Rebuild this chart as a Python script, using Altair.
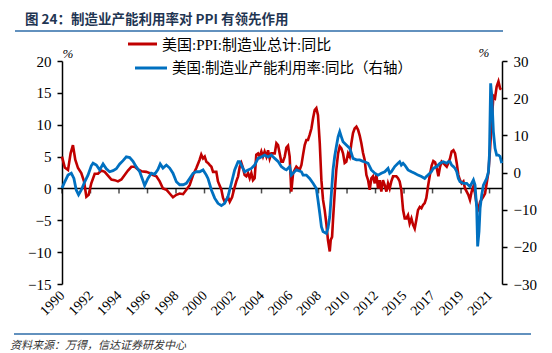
import altair as alt
import pandas as pd

# ---------------- data ----------------
red_t = [1990.00, 1990.20, 1990.44, 1990.63, 1990.80, 1990.97, 1991.17, 1991.41, 1991.61, 1991.78,
         1991.95, 1992.14, 1992.39, 1992.63, 1992.87, 1993.12, 1993.36, 1993.61, 1993.85, 1994.09,
         1994.34, 1994.58, 1994.82, 1995.07, 1995.31, 1995.55, 1995.80, 1996.16, 1996.41, 1996.65,
         1996.90, 1997.14, 1997.38, 1997.63, 1997.87, 1998.11, 1998.36, 1998.60, 1998.85, 1999.09,
         1999.33, 1999.58, 1999.82, 2000.06, 2000.18, 2000.31, 2000.43, 2000.55, 2000.67, 2000.79,
         2000.92, 2001.04, 2001.28, 2001.40, 2001.65, 2001.77, 2001.89, 2002.01, 2002.13, 2002.26,
         2002.43, 2002.57, 2002.74, 2002.87, 2002.99, 2003.11, 2003.23, 2003.35, 2003.47, 2003.60,
         2003.72, 2003.84, 2003.96, 2004.08, 2004.20, 2004.33, 2004.45, 2004.57, 2004.69, 2004.81,
         2004.94, 2005.06, 2005.18, 2005.30, 2005.55, 2005.67, 2005.79, 2005.91, 2006.03, 2006.15,
         2006.28, 2006.40, 2006.52, 2006.64, 2006.76, 2006.89, 2007.01, 2007.13, 2007.37, 2007.50,
         2007.62, 2007.74, 2007.86, 2007.98, 2008.10, 2008.23, 2008.35, 2008.47, 2008.59, 2008.71,
         2008.84, 2008.96, 2009.08, 2009.20, 2009.32, 2009.44, 2009.57, 2009.64, 2009.74, 2009.81,
         2009.93, 2010.05, 2010.18, 2010.30, 2010.42, 2010.54, 2010.66, 2010.78, 2010.91, 2011.03,
         2011.15, 2011.27, 2011.39, 2011.52, 2011.64, 2011.76, 2011.88, 2012.00, 2012.12, 2012.25,
         2012.37, 2012.49, 2012.61, 2012.73, 2012.86, 2012.98, 2013.10, 2013.22, 2013.34, 2013.46,
         2013.59, 2013.71, 2013.83, 2013.95, 2014.07, 2014.20, 2014.44, 2014.56, 2014.68, 2014.80,
         2014.93, 2015.05, 2015.17, 2015.29, 2015.41, 2015.54, 2015.66, 2015.78, 2015.90, 2016.02,
         2016.15, 2016.27, 2016.39, 2016.51, 2016.63, 2016.75, 2016.88, 2017.02, 2017.14, 2017.27,
         2017.39, 2017.51, 2017.63, 2017.75, 2017.99, 2018.12, 2018.24, 2018.36, 2018.48, 2018.61,
         2018.73, 2018.85, 2018.97, 2019.09, 2019.21, 2019.34, 2019.46, 2019.58, 2019.70, 2019.82,
         2019.94, 2020.07, 2020.19, 2020.31, 2020.43, 2020.56, 2020.80, 2020.92, 2021.04, 2021.17,
         2021.29, 2021.41, 2021.53, 2021.65, 2021.77, 2021.90, 2022.02, 2022.09]
red_v = [5.0, 3.3, 2.9, 5.5, 6.8, 4.5, 3.2, 2.4, 1.1, -1.3,
         -1.0, 0.8, 2.3, 2.3, 2.8, 2.6, 2.0, 1.4, 1.3, 1.1,
         1.4, 2.1, 2.8, 3.4, 3.4, 3.0, 2.7, 2.6, 2.4, 2.1,
         1.9, 1.1, 0.0, -0.2, -0.8, -1.4, -1.0, -0.8, -0.9, -0.2,
         0.5, 2.1, 3.2, 4.5, 5.3, 4.7, 5.0, 4.2, 4.0, 3.7,
         3.4, 2.6, 2.6, 1.1, -0.2, -1.5, -2.1, -1.8, -1.3, -2.1,
         -1.4, -0.2, 1.1, 1.9, 3.4, 4.0, 3.2, 2.1, 1.9, 2.4,
         1.6, 2.4, 1.3, 1.6, 5.3, 5.5, 5.0, 5.8, 5.0, 5.8,
         5.0, 6.0, 4.7, 5.5, 5.5, 7.1, 6.8, 5.5, 4.2, 4.2,
         5.0, 6.4, 6.7, 5.0, -0.5, 2.4, 2.9, 3.4, 2.9, 3.7,
         5.3, 6.8, 7.6, 7.6, 8.4, 9.4, 11.0, 12.3, 12.6, 11.5,
         7.1, 1.3, -1.8, -3.4, -5.5, -8.1, -9.9, -8.1, -7.6, -4.9,
         -0.8, 2.9, 5.5, 6.6, 6.3, 5.5, 4.0, 4.2, 5.5, 5.0,
         7.1, 8.7, 9.4, 9.7, 9.2, 8.3, 7.1, 5.6, 4.5, 2.1,
         1.3, -0.2, 1.6, 1.9, 0.8, 2.1, 0.0, 1.3, -0.5, 1.3,
         0.5, -0.5, 0.8, 0.0, 1.1, 1.9, 1.9, 1.6, 1.1, -0.2,
         -3.4, -4.7, -4.7, -4.2, -5.5, -4.7, -5.7, -6.3, -4.9, -3.4,
         -2.9, -3.1, -2.6, -2.3, -1.5, 0.3, 2.0, 3.6, 4.3, 4.1,
         3.2, 1.9, 3.4, 4.2, 3.7, 3.4, 4.0, 4.7, 5.8, 6.0,
         5.5, 4.0, 2.1, 1.3, 0.8, 1.1, 0.0, -0.5, -1.0, -1.8,
         -0.5, 0.3, -0.8, -2.6, -3.2, -2.1, -1.3, -0.8, 0.8, 2.6,
         6.3, 10.5, 14.5, 14.2, 16.0, 16.8, 15.7, 15.5]

blue_t = [1990.00, 1990.20, 1990.44, 1990.68, 1990.87, 1991.04, 1991.21, 1991.41, 1991.66, 1991.90,
          1992.14, 1992.27, 1992.51, 1992.75, 1993.00, 1993.24, 1993.48, 1993.73, 1993.97, 1994.22,
          1994.46, 1994.70, 1994.95, 1995.19, 1995.43, 1995.68, 1995.90, 1996.04, 1996.28, 1996.53,
          1996.77, 1997.01, 1997.18, 1997.38, 1997.63, 1997.87, 1998.11, 1998.36, 1998.60, 1998.85,
          1999.09, 1999.33, 1999.58, 1999.82, 2000.06, 2000.31, 2000.55, 2000.67, 2000.92, 2001.16,
          2001.40, 2001.65, 2001.89, 2002.13, 2002.38, 2002.62, 2002.87, 2002.99, 2003.11, 2003.35,
          2003.60, 2003.84, 2004.08, 2004.33, 2004.57, 2004.81, 2005.06, 2005.30, 2005.55, 2005.79,
          2006.03, 2006.28, 2006.40, 2006.64, 2006.76, 2007.13, 2007.50, 2007.62, 2007.86, 2008.10,
          2008.35, 2008.59, 2008.71, 2008.84, 2008.96, 2009.08, 2009.32, 2009.44, 2009.57, 2009.69,
          2009.81, 2009.93, 2010.05, 2010.18, 2010.30, 2010.42, 2010.54, 2010.78, 2011.03, 2011.15,
          2011.27, 2011.52, 2011.76, 2012.00, 2012.12, 2012.37, 2012.61, 2012.86, 2013.10, 2013.34,
          2013.59, 2013.83, 2013.95, 2014.07, 2014.32, 2014.56, 2014.68, 2014.80, 2014.93, 2015.05,
          2015.29, 2015.54, 2015.78, 2016.02, 2016.27, 2016.51, 2016.63, 2016.75, 2017.00, 2017.14,
          2017.39, 2017.63, 2017.87, 2018.12, 2018.24, 2018.36, 2018.48, 2018.61, 2018.73, 2018.85,
          2018.97, 2019.09, 2019.34, 2019.58, 2019.70, 2019.82, 2019.94, 2020.07, 2020.19, 2020.31,
          2020.38, 2020.48, 2020.56, 2020.68, 2020.80, 2020.92, 2021.04, 2021.17, 2021.24, 2021.33,
          2021.41, 2021.53, 2021.65, 2021.77, 2021.90, 2022.02, 2022.14]
blue_v = [-4.2, -2.5, -0.7, -0.2, -1.6, -4.7, -6.0, -4.7, -2.5, -0.7,
          1.8, 2.5, 2.0, 0.7, 2.3, 1.0, 0.2, 0.5, 1.0, 2.3,
          3.2, 4.2, 4.0, 3.0, 1.5, 0.2, -2.0, -3.5, -1.6, -0.2,
          -0.5, 0.8, 2.3, 1.2, 2.0, 1.2, -0.2, -2.5, -3.3, -3.3,
          -2.9, -1.6, -0.2, 0.2, 0.2, 0.7, -0.7, -1.6, -4.7, -6.9,
          -8.3, -8.9, -8.3, -6.5, -2.9, 0.7, 2.9, 2.9, 2.0, 0.2,
          0.7, 1.1, 2.0, 3.8, 4.2, 4.7, 4.2, 4.7, 3.8, 3.0,
          1.6, 0.9, 0.7, 1.6, -0.7, 0.7, 0.2, -0.7, -0.7, -1.6,
          -2.9, -4.3, -7.4, -11.0, -14.6, -15.9, -16.4, -15.0, -11.9, -5.6,
          0.7, 4.3, 6.9, 9.6, 11.0, 9.6, 8.3, 7.4, 6.5, 5.2,
          3.8, 3.4, 3.4, 3.0, 2.9, 2.5, 0.7, -0.2, -0.7, -0.2,
          0.2, 1.1, -0.2, 0.2, 1.6, 2.5, 2.9, 2.0, 2.5, 2.0,
          0.7, 0.2, -0.2, -0.7, -1.1, -1.6, -1.1, -0.7, 0.2, 1.1,
          1.6, 2.5, 2.9, 2.5, 2.9, 2.9, 2.0, 1.6, 1.1, 0.2,
          -1.6, -2.5, -2.9, -2.9, -3.4, -3.8, -2.9, -2.0, -3.4, -9.6,
          -19.9, -15.9, -9.6, -6.0, -3.4, -2.5, -1.6, 0.2, 4.7, 24.0,
          20.8, 11.0, 6.5, 4.7, 4.7, 4.3, 2.5]

left_ticks = [-15, -10, -5, 0, 5, 10, 15, 20]
right_ticks = [-30, -20, -10, 0, 10, 20, 30]
# category axis: one label every 25 months starting Jan 1990
x_tick_pos = [1990 + 25 * k / 12 for k in range(16)]

title_text = "图 24：制造业产能利用率对 PPI 有领先作用"
red_name = "美国:PPI:制造业总计:同比"
blue_name = "美国:制造业产能利用率:同比（右轴）"
source_text = "资料来源：万得，信达证券研发中心"

RED = "#C00000"
BLUE = "#0070C0"
NUM_FONT = "Liberation Serif"
CJK_FONT = "Liberation Serif, Noto Sans CJK SC"

red_df = pd.DataFrame({"t": red_t, "v": red_v})
blue_df = pd.DataFrame({"t": blue_t, "v": blue_v})
tick_df = pd.DataFrame({"t": x_tick_pos, "v": [0] * len(x_tick_pos)})
zero_df = pd.DataFrame({"v": [0]})

xs = alt.Scale(domain=[1990, 2022.16], nice=False, zero=False)
x_axis = alt.Axis(values=x_tick_pos, labelExpr="floor(datum.value + 0.001)",
                  labelAngle=-45, labelAlign="right", labelBaseline="middle",
                  labelPadding=9, domain=False, ticks=False, grid=False,
                  labelFont=NUM_FONT, labelFontSize=14, labelColor="black",
                  labelOverlap=False, title=None)
X = alt.X("t:Q", scale=xs, axis=x_axis)

ly = alt.Scale(domain=[-15, 20], nice=False, zero=False)
l_axis = alt.Axis(values=left_ticks, title=None, grid=False, domainColor="black",
                  domainWidth=1.5, tickColor="black", tickWidth=1.5, tickSize=5,
                  labelFont=NUM_FONT, labelFontSize=15, labelColor="black", labelPadding=6)
ry = alt.Scale(domain=[-30, 30], nice=False, zero=False)
r_axis = alt.Axis(orient="right", values=right_ticks, title=None, grid=False,
                  domainColor="black", domainWidth=1.5, tickColor="black", tickWidth=1.5,
                  tickSize=5, labelFont=NUM_FONT, labelFontSize=15, labelColor="black",
                  labelPadding=6)

zero_line = alt.Chart(zero_df).mark_rule(color="black", strokeWidth=1.5).encode(
    y=alt.Y("v:Q", scale=ly, axis=l_axis))
zero_ticks = alt.Chart(tick_df).mark_tick(orient="vertical", size=5, thickness=1.5,
                                          color="black", yOffset=2.5).encode(
    x=X, y=alt.Y("v:Q", scale=ly, axis=l_axis))
red_line = alt.Chart(red_df).mark_line(color=RED, strokeWidth=2.6).encode(
    x=X, y=alt.Y("v:Q", scale=ly, axis=l_axis))
left = alt.layer(zero_line, zero_ticks, red_line)

blue_line = alt.Chart(blue_df).mark_line(color=BLUE, strokeWidth=2.8).encode(
    x=X, y=alt.Y("v:Q", scale=ry, axis=r_axis))


def label(txt, x, y, **kw):
    return alt.Chart(pd.DataFrame({"s": [txt]})).mark_text(**kw).encode(
        x=alt.value(x), y=alt.value(y), text="s:N")


def seg(x1, x2, y, color, width):
    return alt.Chart(pd.DataFrame({"s": [0]})).mark_rule(color=color, strokeWidth=width).encode(
        x=alt.value(x1), x2=alt.value(x2), y=alt.value(y))


title = label(title_text, -37, -41, align="left", baseline="middle", font="Noto Sans CJK SC",
              fontSize=13.5, fontWeight="bold", color="#1F3552")
top_rule = seg(-47, 441, -30, "#2E6DA8", 1.5)
bottom_rule = seg(-48, 469, 273, "#2E6DA8", 1.5)
source = label(source_text, -52, 279, align="left", baseline="top", font="Noto Sans CJK SC",
               fontSize=11, fontStyle="italic", color="#333333")
pct_l = label("%", 6, -7, align="center", baseline="middle", font=NUM_FONT, fontSize=13,
              fontStyle="italic", color="black")
pct_r = label("%", 422, -8, align="center", baseline="middle", font=NUM_FONT, fontSize=13,
              fontStyle="italic", color="black")
leg_red_line = seg(66, 95, -17, RED, 3)
leg_red_txt = label(red_name, 100, -16, align="left", baseline="middle", font=CJK_FONT,
                    fontSize=15, color="black")
leg_blue_line = seg(73, 105, 7, BLUE, 3)
leg_blue_txt = label(blue_name, 110, 8, align="left", baseline="middle", font=CJK_FONT,
                     fontSize=14.5, color="black")

chart = alt.layer(
    left, blue_line, title, top_rule, bottom_rule, source, pct_l, pct_r,
    leg_red_line, leg_red_txt, leg_blue_line, leg_blue_txt
).resolve_scale(y="independent").properties(
    width=440, height=223,
    padding={"left": 62, "top": 61, "right": 50, "bottom": 69},
    autosize=alt.AutoSizeParams(type="none"),
    background="white",
).configure_view(stroke=None)

chart.save("out.html", embed_options={"renderer": "svg", "actions": False})
